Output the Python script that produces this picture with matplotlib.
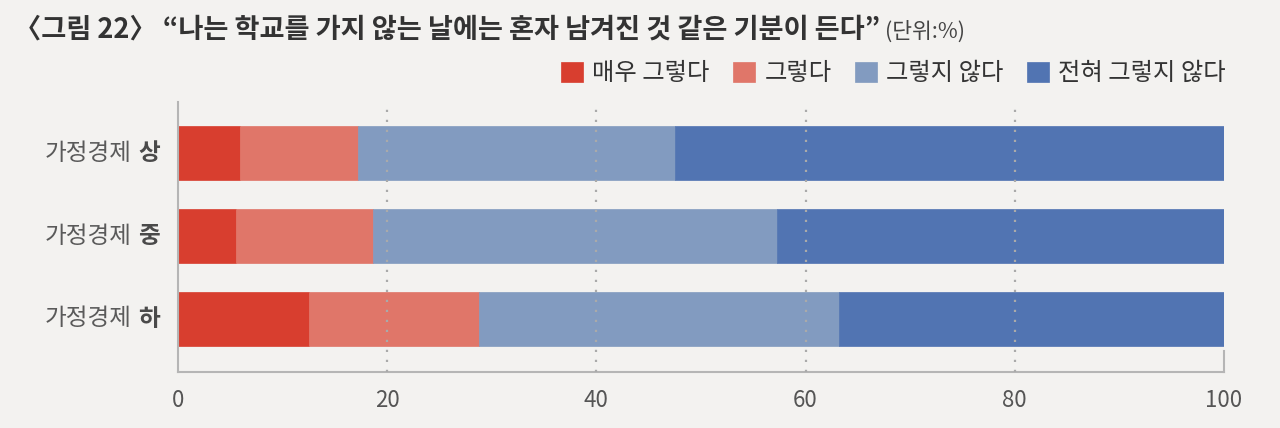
import numpy as np
import matplotlib
matplotlib.use('Agg')
import matplotlib.pyplot as plt
from matplotlib import transforms

plt.rcParams['font.family'] = ['Noto Sans CJK KR', 'DejaVu Sans']

groups = ['가정경제', '가정경제', '가정경제']
levels = ['상', '중', '하']
series = ['매우 그렇다', '그렇다', '그렇지 않다', '전혀 그렇지 않다']
very_agree = [5.9, 5.5, 12.5]
agree = [11.3, 13.1, 16.3]
disagree = [30.3, 38.7, 34.4]
very_disagree = [52.5, 42.7, 36.8]
colors = ['#d83e2f', '#e07669', '#829bc0', '#5174b2']

title_main = '〈그림 22〉 “나는 학교를 가지 않는 날에는 혼자 남겨진 것 같은 기분이 든다”'
title_unit = '(단위:%)'

bg = '#f3f2f0'
fig = plt.figure(figsize=(12.8, 4.28), dpi=100, facecolor=bg)
ax = fig.add_axes([178 / 1280, 1 - 372 / 428, (1224 - 178) / 1280, 270 / 428])
ax.set_facecolor(bg)

ypos = np.array([2, 1, 0])
left = np.zeros(3)
handles = []
for vals, col, name in zip([very_agree, agree, disagree, very_disagree], colors, series):
    b = ax.barh(ypos, vals, left=left, height=0.65, color=col, label=name,
                edgecolor=col, linewidth=0.5, zorder=2)
    handles.append(b)
    left = left + np.array(vals)

ax.set_xlim(0, 100)
ax.set_ylim(-0.64, 2.62)
ax.set_xticks([0, 20, 40, 60, 80, 100])
ax.tick_params(axis='x', length=0, pad=12, labelsize=16, labelcolor='#555555')
ax.set_yticks([])
for x in [20, 40, 60, 80]:
    ax.axvline(x, color='#aaaaaa', linestyle=(0, (1.0, 3.5)), linewidth=1.6, zorder=3)

ax.spines['top'].set_visible(False)
for s in ['left', 'bottom', 'right']:
    ax.spines[s].set_color('#b5b5b5')
    ax.spines[s].set_linewidth(1.5)
ax.spines['right'].set_bounds(-0.64, -0.39)

# y labels: normal group word + bold level
trans = transforms.blended_transform_factory(fig.transFigure, ax.transData)
for y, g, lv in zip(ypos, groups, levels):
    ax.text(160 / 1280, y, lv, transform=trans, ha='right', va='center',
            fontsize=17, fontweight='bold', color='#4a4a4a')
    ax.text(132 / 1280, y, g, transform=trans, ha='right', va='center',
            fontsize=17, color='#5a5a5a')

# title
t = fig.text(14 / 1280, 1 - 30 / 428, title_main, ha='left', va='center',
             fontsize=19.6, fontweight='bold', color='#333333')
fig.canvas.draw()
bb = t.get_window_extent()
fig.text((bb.x1 + 5) / 1280, 1 - 32 / 428, title_unit, ha='left', va='center',
         fontsize=15.5, color='#444444')

leg = fig.legend(handles=handles, loc='center right', bbox_to_anchor=(1226 / 1280, 1 - 73 / 428),
                 ncol=4, frameon=False, fontsize=17.5, handlelength=0.9, handleheight=0.9,
                 handletextpad=0.4, columnspacing=0.95, borderpad=0, borderaxespad=0)
for txt in leg.get_texts():
    txt.set_color('#333333')

fig.savefig('out.png', dpi=100, facecolor=bg)
